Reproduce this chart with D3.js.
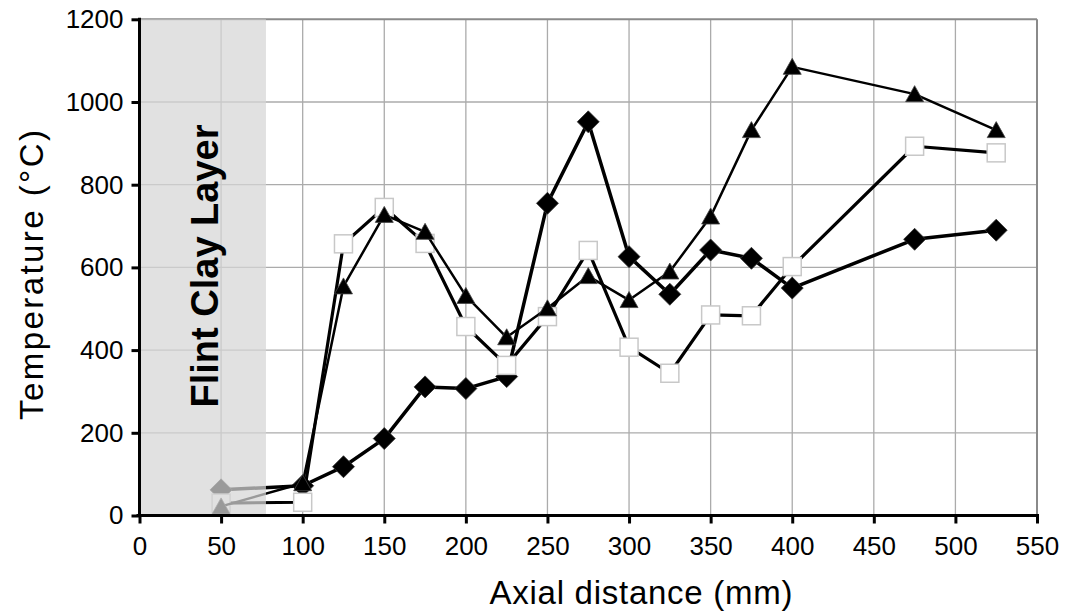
<!DOCTYPE html>
<html>
<head>
<meta charset="utf-8">
<script src="https://cdn.jsdelivr.net/npm/d3@7"></script>
<style>
  html, body { margin: 0; padding: 0; background: #fff; }
  svg { display: block; }
  text { font-family: "Liberation Sans", Arial, sans-serif; }
</style>
</head>
<body>
<svg id="chart" width="1066" height="616"></svg>
<script>
// ---- data ----
const xValues = [50, 100, 125, 150, 175, 200, 225, 250, 275, 300, 325, 350, 375, 400, 475, 525];
const diamondSeries  = [62, 72, 118, 186, 311, 307, 336, 755, 952, 626, 535, 642, 622, 550, 668, 690];
const squareSeries   = [30, 32, 657, 745, 658, 457, 363, 481, 641, 407, 344, 485, 483, 602, 893, 877];
const triangleSeries = [22, 78, 554, 727, 686, 531, 431, 501, 579, 521, 590, 723, 932, 1085, 1019, 932];
const xTicks = [0, 50, 100, 150, 200, 250, 300, 350, 400, 450, 500, 550];
const yTicks = [0, 200, 400, 600, 800, 1000, 1200];
const layerEnd = 77.5;
const layerLabel = "Flint Clay Layer";
const xTitle = "Axial distance (mm)";
const yTitle = "Temperature (°C)";

// ---- layout ----
const svg = d3.select("#chart");
const pLeft = 139.5, pRight = 1037, pTop = 19.3, pBottom = 515.5;
const x = d3.scaleLinear().domain([0, 550]).range([pLeft, pRight]);
const y = d3.scaleLinear().domain([0, 1200]).range([pBottom, pTop]);

// gridlines
const grid = svg.append("g");
grid.selectAll("line.v").data(xTicks.filter(d => d > 0 && d < 550)).enter().append("line")
  .attr("x1", d => x(d)).attr("x2", d => x(d)).attr("y1", pTop).attr("y2", pBottom)
  .attr("stroke", "#ababab").attr("stroke-width", 1.3);
grid.selectAll("line.h").data(yTicks.filter(d => d > 0 && d < 1200)).enter().append("line")
  .attr("x1", pLeft).attr("x2", pRight).attr("y1", d => y(d)).attr("y2", d => y(d))
  .attr("stroke", "#ababab").attr("stroke-width", 1.3);
grid.append("line").attr("x1", pLeft).attr("x2", pRight).attr("y1", y(1200)).attr("y2", y(1200))
  .attr("stroke", "#8a8a8a").attr("stroke-width", 2);
grid.append("line").attr("x1", x(550)).attr("x2", x(550)).attr("y1", pTop).attr("y2", pBottom)
  .attr("stroke", "#8a8a8a").attr("stroke-width", 2);

// series
const pts = vals => xValues.map((xv, i) => [xv, vals[i]]);
const line = d3.line().x(d => x(d[0])).y(d => y(d[1]));

function drawSeries(vals, width, marker) {
  const g = svg.append("g");
  g.append("path").datum(pts(vals)).attr("d", line)
    .attr("fill", "none").attr("stroke", "#000").attr("stroke-width", width)
    .attr("stroke-linejoin", "round");
  const m = g.selectAll("g.m").data(pts(vals)).enter().append("g")
    .attr("transform", d => `translate(${x(d[0])},${y(d[1])})`);
  marker(m);
}

drawSeries(diamondSeries, 3.5, m => m.append("path")
  .attr("d", "M0,-11L11,0L0,11L-11,0Z").attr("fill", "#000").attr("stroke", "#333").attr("stroke-width", 0.8));
drawSeries(squareSeries, 3.2, m => m.append("rect")
  .attr("x", -9).attr("y", -9).attr("width", 18).attr("height", 18)
  .attr("fill", "#fff").attr("stroke", "#c8c8c8").attr("stroke-width", 1.5));
drawSeries(triangleSeries, 2.5, m => m.append("path")
  .attr("d", "M0,-8.5L9,7.5L-9,7.5Z").attr("fill", "#000").attr("stroke", "#444").attr("stroke-width", 0.8));

// shaded layer overlay
svg.append("rect").attr("x", x(0)).attr("y", pTop).attr("width", x(layerEnd) - x(0)).attr("height", pBottom - pTop)
  .attr("fill", "#d6d6d6").attr("opacity", 0.72);

svg.append("text")
  .attr("transform", `translate(218,266) rotate(-90)`)
  .attr("text-anchor", "middle").attr("font-size", 38).attr("font-weight", "bold").attr("fill", "#000")
  .text(layerLabel);

// axes
const xAxis = svg.append("g").attr("transform", `translate(0,${pBottom})`)
  .call(d3.axisBottom(x).tickValues(xTicks).tickFormat(d3.format("d")).tickSize(8).tickPadding(13));
xAxis.select(".domain").attr("stroke", "#000").attr("stroke-width", 3).attr("d", `M${pLeft - 3},0H${pRight + 2}`);
xAxis.selectAll(".tick line").attr("stroke", "#000").attr("stroke-width", 3);
xAxis.selectAll(".tick text").attr("font-size", 26).attr("fill", "#000")
  .attr("font-family", "Liberation Sans, Arial, sans-serif");

const yAxis = svg.append("g").attr("transform", `translate(${pLeft},0)`)
  .call(d3.axisLeft(y).tickValues(yTicks).tickFormat(d3.format("d")).tickSize(8).tickPadding(8));
yAxis.select(".domain").attr("stroke", "#000").attr("stroke-width", 3).attr("d", `M0,${pTop - 1.5}V${pBottom}`);
yAxis.selectAll(".tick line").attr("stroke", "#000").attr("stroke-width", 3);
yAxis.selectAll(".tick text").attr("font-size", 26).attr("fill", "#000")
  .attr("font-family", "Liberation Sans, Arial, sans-serif");

// titles
svg.append("text").attr("x", 641).attr("y", 604).attr("text-anchor", "middle")
  .attr("font-size", 33).attr("fill", "#000")
  .attr("textLength", 303).attr("lengthAdjust", "spacing").text(xTitle);
svg.append("text").attr("transform", `translate(43,${275}) rotate(-90)`).attr("text-anchor", "middle")
  .attr("font-size", 33).attr("fill", "#000")
  .attr("textLength", 290).attr("lengthAdjust", "spacing").text(yTitle);
</script>
</body>
</html>
